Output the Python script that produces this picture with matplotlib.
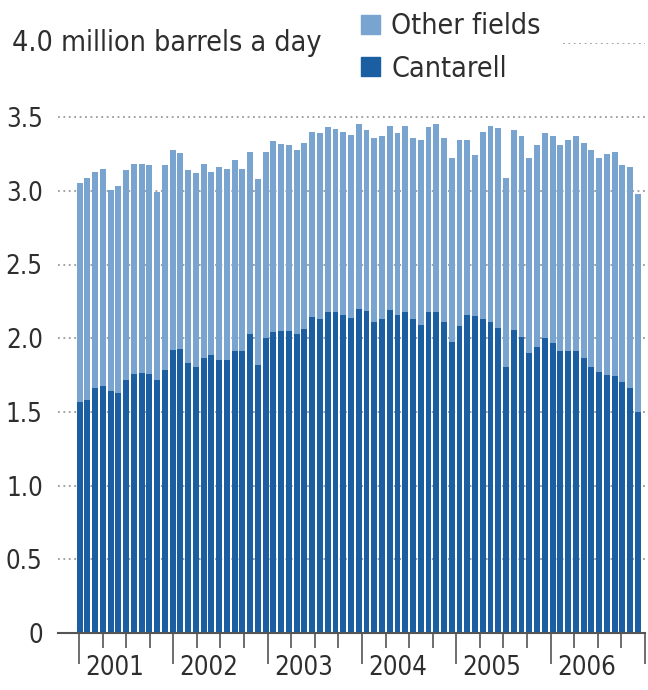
import numpy as np
import matplotlib
matplotlib.use("Agg")
import matplotlib.pyplot as plt
from matplotlib.patches import Patch
from matplotlib.transforms import blended_transform_factory

plt.rcParams['font.family'] = ['DejaVu Sans']
plt.rcParams['font.stretch'] = 'condensed'

# monthly output, million barrels a day
total = [3.055, 3.085, 3.13, 3.15, 3.005, 3.03, 3.14, 3.18, 3.18, 3.175, 2.995, 3.175,
         3.28, 3.255, 3.14, 3.12, 3.18, 3.13, 3.16, 3.145, 3.21, 3.15, 3.265, 3.08,
         3.265, 3.335, 3.32, 3.31, 3.28, 3.325, 3.40, 3.395, 3.435, 3.42, 3.40, 3.38,
         3.455, 3.41, 3.355, 3.37, 3.44, 3.39, 3.44, 3.355, 3.345, 3.43, 3.455, 3.36,
         3.22, 3.345, 3.345, 3.245, 3.40, 3.44, 3.425, 3.085, 3.41, 3.37, 3.22, 3.31,
         3.39, 3.37, 3.31, 3.345, 3.37, 3.325, 3.28, 3.22, 3.25, 3.26, 3.175, 3.16, 2.98]
cantarell = [1.57, 1.58, 1.66, 1.675, 1.645, 1.63, 1.715, 1.76, 1.765, 1.76, 1.715, 1.785,
             1.92, 1.93, 1.83, 1.805, 1.865, 1.885, 1.85, 1.85, 1.91, 1.91, 2.03, 1.82,
             2.0, 2.045, 2.05, 2.05, 2.03, 2.065, 2.145, 2.13, 2.18, 2.18, 2.16, 2.135,
             2.20, 2.185, 2.11, 2.13, 2.19, 2.155, 2.18, 2.13, 2.09, 2.175, 2.175, 2.11,
             1.975, 2.08, 2.155, 2.15, 2.13, 2.11, 2.07, 1.805, 2.055, 2.01, 1.90, 1.94,
             2.0, 1.965, 1.915, 1.915, 1.91, 1.865, 1.805, 1.77, 1.75, 1.745, 1.705, 1.66, 1.50]
years = ['2001', '2002', '2003', '2004', '2005', '2006']
yticks = [0, 0.5, 1.0, 1.5, 2.0, 2.5, 3.0, 3.5]
ytick_labels = ['0', '0.5', '1.0', '1.5', '2.0', '2.5', '3.0', '3.5']

c_other = '#79a4cf'
c_cant = '#1b5ea1'
txt = '#2e2e2e'
fs = 18.5
fs_big = 20.5

total = np.array(total)
cantarell = np.array(cantarell)
other = total - cantarell
x = np.arange(len(total))
n = len(total)

fig = plt.figure(figsize=(6.48, 6.9), dpi=100)
ax = fig.add_axes([58/648, 57/690, 587/648, 589.6/690])

ax.bar(x, cantarell, width=0.76, align='edge', color=c_cant, zorder=2)
ax.bar(x, other, bottom=cantarell, width=0.76, align='edge', color=c_other, zorder=2)

ax.set_ylim(0, 4.0)
ax.set_xlim(-2.4, 73.05)

for yv in yticks[1:]:
    ax.axhline(yv, color='#9a9a9a', lw=1.3, ls=(0, (1, 2)), zorder=1)
ax.axhline(4.0, xmin=0.86, xmax=1.0, color='#9a9a9a', lw=1.3, ls=(0, (1, 2)))

ax.set_yticks(yticks)
ax.set_yticklabels(ytick_labels, fontsize=fs, color=txt)
ax.tick_params(axis='y', length=0, pad=11)

# quarter ticks, longer at year starts
span = n / 24.0
ax.set_xticks(np.arange(0, 25, 4) * span + 0.3)
ax.set_xticks(np.arange(25) * span + 0.3, minor=True)
ax.set_xticklabels([])
ax.tick_params(axis='x', which='major', length=22, width=1.2, color='#555555')
ax.tick_params(axis='x', which='minor', length=11, width=1.2, color='#555555')

trans = blended_transform_factory(ax.transData, ax.transAxes)
for k, yr in enumerate(years):
    ax.text(k * 4 * span + 0.3 + 0.8, -0.038, yr, transform=trans, ha='left', va='top',
            fontsize=fs, color=txt)

for s in ['top', 'right', 'left']:
    ax.spines[s].set_visible(False)
ax.spines['bottom'].set_color('#555555')
ax.spines['bottom'].set_linewidth(1.5)
ax.spines['bottom'].set_zorder(3)

t2 = blended_transform_factory(fig.transFigure, ax.transData)
ax.text(12/648, 4.0, '4.0 million barrels a day', transform=t2, ha='left', va='center',
        fontsize=fs_big, color=txt)

handles = [Patch(color=c_other, label='Other fields'), Patch(color=c_cant, label='Cantarell')]
fig.legend(handles=handles, loc='upper left', bbox_to_anchor=(350/648, 1 - 1/690),
           frameon=False, fontsize=fs_big, handlelength=0.65, handleheight=0.65,
           handletextpad=0.4, labelspacing=0.5, labelcolor=txt, borderaxespad=0)

fig.savefig('out.png', dpi=100)
